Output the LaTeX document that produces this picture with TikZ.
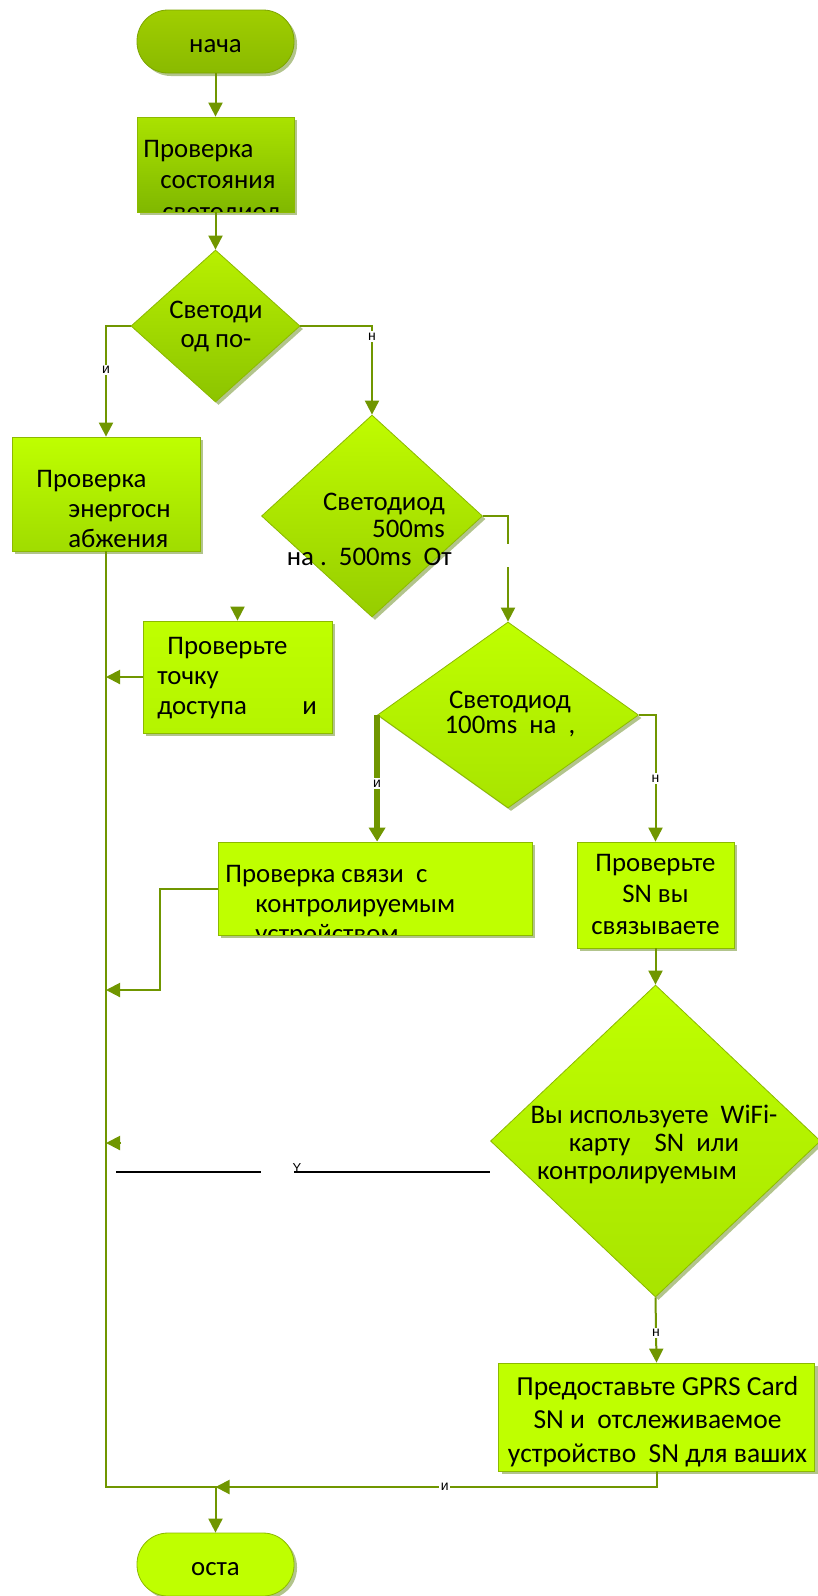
\documentclass[tikz,border=0pt]{standalone}
\usepackage{fontspec}
\setmainfont{Carlito}
\newfontfamily\lblfont{Liberation Sans}
\usetikzlibrary{arrows.meta, shapes.geometric, shadows}

\definecolor{flowg}{RGB}{112,150,0}
\definecolor{edgeg}{RGB}{140,185,0}
\definecolor{limeA}{RGB}{191,255,0}
\definecolor{limeB}{RGB}{168,228,0}
\definecolor{shadeg}{RGB}{178,196,140}

\tikzset{
  shapebase/.style={draw=edgeg, line width=0.8pt, inner sep=0pt,
    drop shadow={shadow xshift=3pt, shadow yshift=-3pt, fill=shadeg, opacity=1}},
  term/.style={shapebase, rectangle, rounded corners=31pt, minimum width=157pt,
    minimum height=63pt, font=\fontsize{26.8}{30}\selectfont, text height=21pt, text depth=0pt},
  proc/.style={shapebase, rectangle},
  decision/.style={shapebase, diamond},
  btext/.style={inner sep=0pt, text=black, draw=none, fill=none, minimum width=0pt, minimum height=0pt},
  flow/.style={draw=flowg, line width=2pt, -{Triangle[length=14pt,width=14pt]}},
  thickflow/.style={draw=flowg, line width=6pt, -{Triangle[length=14pt,width=16pt]}},
  lbl/.style={fill=white, inner sep=1.5pt, font=\lblfont\fontsize{14}{14}\selectfont, text=black},
  gapmask/.style={fill=white, inner sep=0pt, minimum width=6pt, minimum height=23pt},
}

\begin{document}
\begin{tikzpicture}[x=1pt, y=-1pt]
  \useasboundingbox (0,0) rectangle (817,1596);

  % начало и проверка светодиода
  \node[term, top color={rgb,255:red,160;green,206;blue,0}, bottom color={rgb,255:red,138;green,186;blue,0},
    draw={rgb,255:red,125;green,165;blue,0}] (start) at (215.5,41.5) {нача};
  \node[proc, minimum width=157pt, minimum height=95pt,
    top color={rgb,255:red,170;green,226;blue,0}, bottom color={rgb,255:red,128;green,184;blue,0},
    path picture={\node[btext, align=left, anchor=north west, font=\fontsize{26.8}{31.5}\selectfont]
      (chkled-t) at ([shift={(6pt,-22.7pt)}]path picture bounding box.north west)
      {Проверка\\\hspace*{17pt}состояния\\\hspace*{19pt}светодиод};}] (chkled) at (215.5,164.5) {};

  % первое решение
  \node[decision, minimum width=169pt, minimum height=152pt,
    top color={rgb,255:red,184;green,240;blue,0}, bottom color={rgb,255:red,140;green,196;blue,0}] (ledon) at (215.5,326) {};
  \node[btext, align=center, anchor=north, font=\fontsize{26.8}{29}\selectfont] (ledon-t) at (216,300.7) {Светоди\\од по-};

  % левая ветка: питание и точка доступа
  \node[proc, minimum width=188pt, minimum height=114pt, top color=limeA, bottom color={rgb,255:red,160;green,220;blue,0},
    path picture={\node[btext, align=left, anchor=north west, font=\fontsize{26.8}{30}\selectfont]
      (pwr-t) at ([shift={(24pt,-32.7pt)}]path picture bounding box.north west)
      {Проверка\\\hspace*{32pt}энергосн\\\hspace*{32pt}абжения};}] (pwr) at (106,494) {};
  \node[proc, minimum width=189pt, minimum height=112pt, top color=limeA, bottom color={rgb,255:red,180;green,244;blue,0},
    path picture={\node[btext, align=left, anchor=north west, font=\fontsize{26.8}{30}\selectfont]
      (chkap-t) at ([shift={(14pt,-16pt)}]path picture bounding box.north west)
      {\hspace*{10pt}Проверьте\\точку\\\makebox[145pt][l]{доступа}и};}] (chkap) at (237.5,677) {};

  % правая ветка: мигание
  \node[decision, minimum width=221pt, minimum height=202pt,
    top color={rgb,255:red,192;green,252;blue,0}, bottom color={rgb,255:red,150;green,205;blue,0}] (blink500) at (372,516) {};
  \node[btext, align=right, anchor=north east, font=\fontsize{26.8}{27.5}\selectfont] (blink500-t) at (445,492.7)
    {Светодиод\\500ms\\на .\ \ 500ms\ \ От\hspace*{-7pt}};
  \node[decision, minimum width=261pt, minimum height=186pt, top color=limeA, bottom color=limeB] (blink100) at (508,715) {};
  \node[btext, align=center, anchor=north, font=\fontsize{26.8}{25}\selectfont] (blink100-t) at (510,690.7)
    {Светодиод\\100ms\ \ на\ \ ,};

  \node[proc, minimum width=314pt, minimum height=93pt, fill=limeA,
    path picture={\node[btext, align=left, anchor=north west, font=\fontsize{26.8}{30}\selectfont]
      (chklink-t) at ([shift={(7pt,-22.7pt)}]path picture bounding box.north west)
      {Проверка связи\ \ с\\\hspace*{30pt}контролируемым\\\hspace*{30pt}устройством};}] (chklink) at (375,888.5) {};
  \node[proc, minimum width=157pt, minimum height=106pt, fill=limeA,
    path picture={\node[btext, align=center, anchor=north, font=\fontsize{26.8}{31.5}\selectfont]
      (chksn-t) at ([shift={(0pt,-11.5pt)}]path picture bounding box.north)
      {Проверьте\\SN вы\\связываете};}] (chksn) at (655.5,895) {};

  % карта WiFi / GPRS
  \node[decision, minimum width=330pt, minimum height=312pt, top color=limeA, bottom color=limeB] (wifi) at (655.5,1141) {};
  \node[btext, align=center, anchor=north, font=\fontsize{26.8}{28}\selectfont] (wifi-t) at (654,1104.7)
    {Вы используете\ \ WiFi-\\карту\ \ \ \ SN\ \ или\\контролируемым\hspace*{34pt}};
  \node[proc, minimum width=316pt, minimum height=108pt, fill=limeA,
    path picture={\node[btext, align=center, anchor=north, font=\fontsize{27.5}{33.5}\selectfont]
      (gprs-t) at ([shift={(1pt,-12.7pt)}]path picture bounding box.north)
      {Предоставьте GPRS Card\\SN и\ \ отслеживаемое\\устройство\ \ SN для ваших};}] (gprs) at (656.5,1417) {};

  \node[term, fill=limeA] (stop) at (215.5,1564.5) {оста};

  % точки без узлов
  \coordinate (join) at (215.5,1487);
  \coordinate (elbow4) at (160,990);
  \coordinate (apTail) at (237.5,607);
  \coordinate (busYtail) at (121,1143);
  \coordinate (busYtip) at (106,1143);
  \coordinate (noA) at (116,1172);
  \coordinate (noB) at (261,1172);
  \coordinate (noC) at (294,1172);

  % соединения
  \draw[flow] (start.south) -- (chkled.north);
  \draw[flow] (chkled.south) -- (ledon.north);
  \draw[flow] (ledon.west) -| node[lbl, pos=0.7] (yes1) {и} (pwr.north);
  \draw[flow] (ledon.east) -| node[lbl, pos=0.56] (no1) {н} (blink500.north);
  \draw[flow] (blink500.east) -| node[gapmask, pos=0.685] (blank1) {} (blink100.north);
  \draw[thickflow] (blink100.west) -- node[lbl, pos=0.54] (yes3) {и} (blink100.west |- chklink.north);
  \draw[flow] (blink100.east) -| node[lbl, pos=0.75] (no3) {н} (chksn.north);
  \draw[flow] (chksn.south) -- (wifi.north);
  \draw[flow] (wifi.south) -- node[lbl, pos=0.55] (no4) {н} (gprs.north);
  \draw[flow] (apTail) -- (chkap.north);
  \draw[flow] (chkap.west) -- (chkap.west -| pwr.south);
  \draw[flow] (chklink.west) -| (elbow4) -- (elbow4 -| pwr.south);
  \draw[flow] (busYtail) -- (busYtip);
  \draw[flow] (pwr.south) |- (join) -- (stop.north);
  \draw[flow] (gprs.south) |- node[lbl, pos=0.74] (yes4) {и} (join);

  % чёрная линия с Y
  \node[btext, font=\lblfont\fontsize{13}{13}\selectfont] (yesY) at (297,1168) {Y};
  \draw[black, line width=1.7pt] (noA) -- (noB);
  \draw[black, line width=1.7pt] (noC) -- (noC -| wifi.west);
\end{tikzpicture}
\end{document}
